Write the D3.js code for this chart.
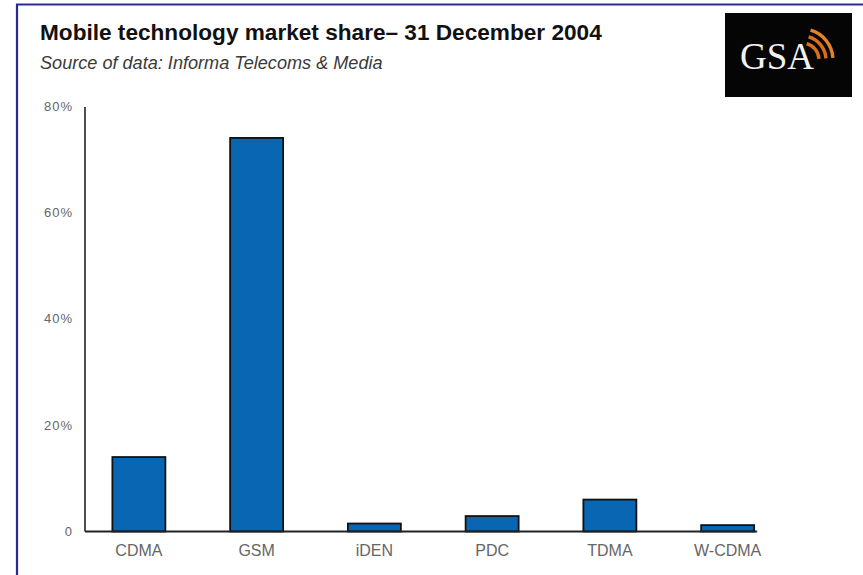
<!DOCTYPE html>
<html>
<head>
<meta charset="utf-8">
<script src="https://cdn.jsdelivr.net/npm/d3@7"></script>
<style>
  html, body { margin: 0; padding: 0; background: #ffffff; }
  svg { display: block; }
</style>
</head>
<body>
<svg id="chart" width="863" height="575"></svg>
<script>
// Market share by mobile technology, end of 2004 (percent)
const categories = ["CDMA", "GSM", "iDEN", "PDC", "TDMA", "W-CDMA"];
const shares = [14, 74, 1.5, 2.9, 6, 1.2];
const yTickValues = [0, 20, 40, 60, 80];
const yTickLabels = ["0", "20%", "40%", "60%", "80%"];

const titleText = "Mobile technology market share\u2013 31 December 2004";
const subtitleText = "Source of data: Informa Telecoms & Media";

const svg = d3.select("#chart");
const W = 863, H = 575;

svg.append("rect").attr("width", W).attr("height", H).attr("fill", "#ffffff");

// slide frame: top and left rule
const frame = svg.append("g").attr("stroke", "#2a2a96").attr("stroke-width", 2.2);
frame.append("line").attr("x1", 16).attr("x2", W).attr("y1", 4.5).attr("y2", 4.5);
frame.append("line").attr("x1", 17).attr("x2", 17).attr("y1", 4.5).attr("y2", H);

// title and source line, sized to their set widths
function fitText(sel, width) {
  const base = parseFloat(sel.attr("font-size"));
  const w = sel.node().getComputedTextLength();
  sel.attr("font-size", (base * width / w).toFixed(2));
}
const title = svg.append("text")
  .attr("x", 40).attr("y", 40)
  .attr("font-family", "Liberation Sans, Arial, sans-serif")
  .attr("font-weight", "bold").attr("font-size", 18)
  .attr("fill", "#111").text(titleText);
fitText(title, 562);

const subtitle = svg.append("text")
  .attr("x", 40).attr("y", 69)
  .attr("font-family", "Liberation Sans, Arial, sans-serif")
  .attr("font-style", "italic").attr("font-size", 15)
  .attr("fill", "#3a3a3a").text(subtitleText);
fitText(subtitle, 343);

// GSA badge
const logo = svg.append("g");
logo.append("rect").attr("x", 725).attr("y", 13).attr("width", 127).attr("height", 84).attr("fill", "#050505");
logo.append("text").attr("x", 740).attr("y", 69)
  .attr("font-family", "Liberation Serif, Times New Roman, serif")
  .attr("font-size", 37).attr("fill", "#f2f2f2").text("GSA");
const arcGen = d3.arc();
[17, 24, 31].forEach((r, i) => {
  logo.append("path")
    .attr("transform", "translate(802,60)")
    .attr("d", arcGen({innerRadius: r - 1.7, outerRadius: r + 1.7, startAngle: 0.28, endAngle: 1.5}))
    .attr("fill", i === 2 ? "#f08a2a" : "#e8741c")
    .attr("opacity", 0.95);
});

// scales
const y = d3.scaleLinear().domain([0, 80]).range([531.5, 106]);
const x = d3.scaleBand().domain(categories).range([80, 786.5])
  .paddingInner(0.55).paddingOuter(0.275);
const axisX = 85;

// bars
svg.append("g").selectAll("rect")
  .data(categories.map((c, i) => ({c, v: shares[i]})))
  .join("rect")
  .attr("x", d => x(d.c))
  .attr("y", d => y(d.v))
  .attr("width", x.bandwidth())
  .attr("height", d => y(0) - y(d.v))
  .attr("fill", "#0866b2")
  .attr("stroke", "#111")
  .attr("stroke-width", 1.8);

// y axis
const yAxis = d3.axisLeft(y).tickValues(yTickValues)
  .tickFormat((d, i) => yTickLabels[i]).tickSize(0).tickPadding(12);
const gy = svg.append("g").attr("transform", `translate(${axisX},0)`).call(yAxis);
gy.select(".domain").remove();
gy.selectAll("text")
  .attr("font-family", "Liberation Sans, Arial, sans-serif")
  .attr("font-size", 13).attr("fill", "#666").attr("letter-spacing", 1);

svg.append("line")
  .attr("x1", axisX).attr("x2", axisX).attr("y1", y(80) + 1).attr("y2", y(0))
  .attr("stroke", "#222").attr("stroke-width", 1.6);

// x axis
const xAxis = d3.axisBottom(x).tickSize(0).tickPadding(13);
const gx = svg.append("g").attr("transform", `translate(0,${y(0)})`).call(xAxis);
gx.select(".domain").remove();
gx.selectAll("text")
  .attr("font-family", "Liberation Sans, Arial, sans-serif")
  .attr("font-size", 16).attr("fill", "#666");

const lastCat = categories[categories.length - 1];
svg.append("line")
  .attr("x1", axisX).attr("x2", x(lastCat) + x.bandwidth() + 3)
  .attr("y1", y(0)).attr("y2", y(0))
  .attr("stroke", "#222").attr("stroke-width", 1.8);
</script>
</body>
</html>
